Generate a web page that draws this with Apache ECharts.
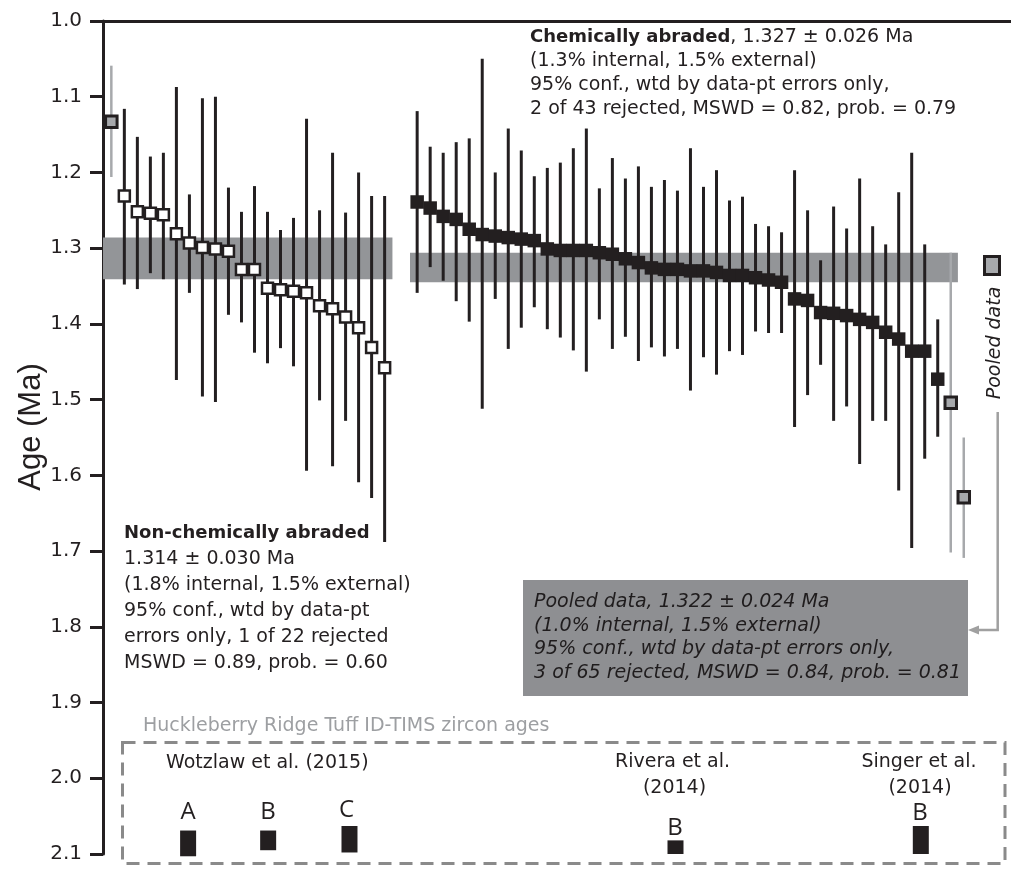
<!DOCTYPE html>
<html>
<head>
<meta charset="utf-8">
<title>Huckleberry Ridge Tuff zircon ages</title>
<script src="https://cdn.jsdelivr.net/npm/echarts@6/dist/echarts.min.js"></script>
<style>
  html, body { margin: 0; padding: 0; background: #fff; }
  #chart { width: 1011px; height: 872px; }
</style>
</head>
<body>
<div id="chart"></div>
<script>
// y axis (age, Ma), inverted
const yMin = 1.0;
const yMax = 2.1;
const yStep = 0.1;

// non-chemically abraded grains: age and 2-sigma bar ends (Ma)
const leftAge = [1.133, 1.231, 1.252, 1.254, 1.256, 1.281, 1.293, 1.299, 1.301, 1.304, 1.328,
  1.328, 1.353, 1.355, 1.357, 1.359, 1.376, 1.380, 1.391, 1.405, 1.431, 1.458];
const leftLo = [1.059, 1.116, 1.153, 1.179, 1.174, 1.087, 1.229, 1.102, 1.100, 1.220, 1.252,
  1.218, 1.252, 1.276, 1.260, 1.129, 1.250, 1.174, 1.253, 1.200, 1.231, 1.231];
const leftHi = [1.206, 1.348, 1.354, 1.333, 1.341, 1.474, 1.359, 1.496, 1.503, 1.388, 1.398,
  1.438, 1.452, 1.432, 1.456, 1.594, 1.501, 1.588, 1.528, 1.609, 1.630, 1.688];
const leftRejected = [0];

// chemically abraded grains
const rightAge = [1.239, 1.247, 1.258, 1.262, 1.275, 1.282, 1.284, 1.286, 1.288, 1.290, 1.301,
  1.303, 1.303, 1.303, 1.306, 1.308, 1.314, 1.319, 1.326, 1.328, 1.328, 1.330, 1.330, 1.332,
  1.336, 1.336, 1.339, 1.342, 1.345, 1.367, 1.369, 1.385, 1.386, 1.389, 1.394, 1.398, 1.411,
  1.420, 1.436, 1.436, 1.473, 1.504, 1.629];
const rightLo = [1.119, 1.166, 1.174, 1.160, 1.155, 1.050, 1.200, 1.142, 1.171, 1.205, 1.194,
  1.187, 1.168, 1.142, 1.221, 1.181, 1.208, 1.192, 1.219, 1.210, 1.224, 1.168, 1.219, 1.197,
  1.237, 1.232, 1.268, 1.271, 1.279, 1.197, 1.250, 1.316, 1.245, 1.274, 1.208, 1.271, 1.295,
  1.226, 1.174, 1.295, 1.394, 1.306, 1.550];
const rightHi = [1.359, 1.325, 1.343, 1.370, 1.397, 1.512, 1.367, 1.433, 1.405, 1.378, 1.407,
  1.418, 1.435, 1.463, 1.394, 1.433, 1.417, 1.449, 1.431, 1.443, 1.433, 1.488, 1.444, 1.467,
  1.436, 1.441, 1.410, 1.412, 1.412, 1.536, 1.494, 1.454, 1.528, 1.509, 1.585, 1.528, 1.528,
  1.620, 1.696, 1.578, 1.549, 1.702, 1.709];
const rightRejected = [41, 42];

// weighted means (band = 95% conf.), in age and in analysis-index span
const leftMean = [1.286, 1.341];
const leftMeanSpan = [0.36, 22.6];
const rightMean = [1.306, 1.345];
const rightMeanSpan = [23.95, 66.05];

// published ID-TIMS ages shown in the bottom box
const refLetter = ['A', 'B', 'C', 'B', 'B'];
const refLo = [2.069, 2.069, 2.063, 2.082, 2.063];
const refHi = [2.103, 2.095, 2.098, 2.100, 2.100];
const refSlot = [6.9, 13.05, 19.3, 44.35, 63.2];

const INK = '#231f20';
const BAND = '#939598';
const REJ = '#a7a9ac';
const SANS = '"DejaVu Sans"';

// analysis index -> x position (left group first, a gap, then right group)
const leftX = leftAge.map((a, i) => i + 1);
const rightX = rightAge.map((a, i) => 24.5 + i);

const bars = [];
leftAge.forEach((a, i) => bars.push([leftX[i], leftLo[i], leftHi[i], leftRejected.includes(i) ? 1 : 0]));
rightAge.forEach((a, i) => bars.push([rightX[i], rightLo[i], rightHi[i], rightRejected.includes(i) ? 1 : 0]));

const leftPts = [], rightPts = [], rejPts = [];
leftAge.forEach((a, i) => (leftRejected.includes(i) ? rejPts : leftPts).push([leftX[i], a]));
rightAge.forEach((a, i) => (rightRejected.includes(i) ? rejPts : rightPts).push([rightX[i], a]));

function txt(x, y, text, extra) {
  return {
    type: 'text', x: x, y: y, silent: true,
    style: Object.assign({
      text: text, fill: INK, fontSize: 19, fontFamily: SANS,
      align: 'left', textAlign: 'left', verticalAlign: 'middle', textVerticalAlign: 'middle'
    }, extra || {})
  };
}
function lines(x, y0, dy, arr, extra) {
  return arr.map((t, i) => txt(x, y0 + i * dy, t, extra));
}

const chart = echarts.init(document.getElementById('chart'));

chart.setOption({
  animation: false,
  grid: { left: 103, right: 0, top: 21, bottom: 18 },
  xAxis: {
    type: 'value', min: 0.36, max: 70.13, position: 'top',
    axisLine: { show: true, onZero: false, lineStyle: { color: INK, width: 3 } },
    axisTick: { show: false }, axisLabel: { show: false }, splitLine: { show: false }
  },
  yAxis: {
    type: 'value', inverse: true, min: yMin, max: yMax, interval: yStep,
    axisLine: { show: true, lineStyle: { color: INK, width: 3 } },
    axisTick: { show: true, length: 13, lineStyle: { color: INK, width: 3 } },
    axisLabel: {
      margin: 21, color: INK, fontSize: 20, fontFamily: SANS,
      formatter: v => v.toFixed(1)
    },
    splitLine: { show: false }
  },
  series: [
    {
      // weighted-mean bands
      type: 'custom', z: 1,
      data: [[leftMeanSpan[0], leftMeanSpan[1], leftMean[0], leftMean[1]],
             [rightMeanSpan[0], rightMeanSpan[1], rightMean[0], rightMean[1]]],
      encode: { x: [0, 1], y: [2, 3] },
      renderItem: function (params, api) {
        const p0 = api.coord([api.value(0), api.value(2)]);
        const p1 = api.coord([api.value(1), api.value(3)]);
        return { type: 'rect', shape: { x: p0[0], y: p0[1], width: p1[0] - p0[0], height: p1[1] - p0[1] },
                 style: { fill: BAND } };
      }
    },
    {
      // error bars
      type: 'custom', z: 2,
      data: bars,
      encode: { x: 0, y: [1, 2] },
      renderItem: function (params, api) {
        const a = api.coord([api.value(0), api.value(1)]);
        const b = api.coord([api.value(0), api.value(2)]);
        const rej = api.value(3) === 1;
        return { type: 'line', shape: { x1: a[0], y1: a[1], x2: b[0], y2: b[1] },
                 style: { stroke: rej ? REJ : INK, lineWidth: rej ? 2.5 : 3 } };
      }
    },
    {
      // published ages (bottom box)
      type: 'custom', z: 2,
      data: refSlot.map((s, i) => [s, refLo[i], refHi[i]]),
      encode: { x: 0, y: [1, 2] },
      renderItem: function (params, api) {
        const a = api.coord([api.value(0), api.value(1)]);
        const b = api.coord([api.value(0), api.value(2)]);
        return { type: 'rect', shape: { x: a[0] - 8, y: a[1], width: 16, height: b[1] - a[1] },
                 style: { fill: INK } };
      }
    },
    {
      type: 'scatter', z: 3, symbol: 'rect', symbolSize: 11,
      data: leftPts,
      itemStyle: { color: '#fff', borderColor: INK, borderWidth: 2.5, opacity: 1 }
    },
    {
      type: 'scatter', z: 3, symbol: 'rect', symbolSize: 13.5,
      data: rightPts,
      itemStyle: { color: INK, opacity: 1 }
    },
    {
      type: 'scatter', z: 4, symbol: 'rect', symbolSize: 11.5,
      data: rejPts,
      itemStyle: { color: REJ, borderColor: INK, borderWidth: 3, opacity: 1 }
    }
  ],
  graphic: [
    // axis title
    {
      type: 'text', x: 31, y: 427, rotation: Math.PI / 2, silent: true,
      style: { text: 'Age (Ma)', fill: INK, fontSize: 31, fontFamily: '"Liberation Sans"',
               align: 'center', textAlign: 'center', verticalAlign: 'middle', textVerticalAlign: 'middle' }
    },
    // chemically abraded summary
    txt(530, 37, '{b|Chemically abraded}, 1.327 ± 0.026 Ma', {
      rich: { b: { fontWeight: 'bold', fontSize: 18, fontFamily: SANS, fill: INK } }
    }),
    ...lines(530, 61.5, 24, ['(1.3% internal, 1.5% external)',
      '95% conf., wtd by data-pt errors only,',
      '2 of 43 rejected, MSWD = 0.82, prob. = 0.79']),
    // non-chemically abraded summary
    txt(124, 533, 'Non-chemically abraded', { fontWeight: 'bold', fontSize: 18 }),
    ...lines(124, 559, 26, ['1.314 ± 0.030 Ma', '(1.8% internal, 1.5% external)',
      '95% conf., wtd by data-pt', 'errors only, 1 of 22 rejected', 'MSWD = 0.89, prob. = 0.60']),
    // pooled legend + connector
    { type: 'rect', shape: { x: 984.5, y: 256.5, width: 15, height: 18 },
      style: { fill: REJ, stroke: INK, lineWidth: 3 }, silent: true },
    {
      type: 'text', x: 995, y: 343, rotation: Math.PI / 2, silent: true,
      style: { text: 'Pooled data', fill: INK, fontSize: 19, fontFamily: SANS, fontStyle: 'italic',
               align: 'center', textAlign: 'center', verticalAlign: 'middle', textVerticalAlign: 'middle' }
    },
    { type: 'polyline', shape: { points: [[997.7, 412], [997.7, 630], [976, 630]] },
      style: { stroke: '#a0a0a0', lineWidth: 2.5, fill: null }, silent: true },
    { type: 'polygon', shape: { points: [[968, 630], [979, 625.5], [979, 634.5]] },
      style: { fill: '#a0a0a0' }, silent: true },
    // pooled summary box
    { type: 'rect', shape: { x: 523, y: 580, width: 445, height: 116 },
      style: { fill: '#8e8f92' }, silent: true, z: 10 },
    ...lines(534, 602, 23.7, ['Pooled data, 1.322 ± 0.024 Ma', '(1.0% internal, 1.5% external)',
      '95% conf., wtd by data-pt errors only,', '3 of 65 rejected, MSWD = 0.84, prob. = 0.81'],
      { fontStyle: 'italic', fill: '#1f1c1d' }).map(e => Object.assign(e, { z: 11 })),
    // published ages box
    txt(143, 726, 'Huckleberry Ridge Tuff ID-TIMS zircon ages', { fill: '#9d9fa2' }),
    { type: 'rect', shape: { x: 122.5, y: 742.5, width: 882.5, height: 121 },
      style: { fill: null, stroke: '#8a8a8a', lineWidth: 3, lineDash: [13, 8] }, silent: true },
    txt(166, 763, 'Wotzlaw et al. (2015)'),
    txt(672.5, 762, 'Rivera et al.', { align: 'center', textAlign: 'center' }),
    txt(674.5, 788, '(2014)', { align: 'center', textAlign: 'center' }),
    txt(919, 762, 'Singer et al.', { align: 'center', textAlign: 'center' }),
    txt(920, 788, '(2014)', { align: 'center', textAlign: 'center' }),
    ...[[188, 811.7], [268, 811.7], [346.5, 810], [675, 827.7], [920, 812.7]].map((p, i) =>
      txt(p[0], p[1], refLetter[i], { align: 'center', textAlign: 'center', fontSize: 24, fontFamily: '"Open Sans"' }))
  ]
});
</script>
</body>
</html>
